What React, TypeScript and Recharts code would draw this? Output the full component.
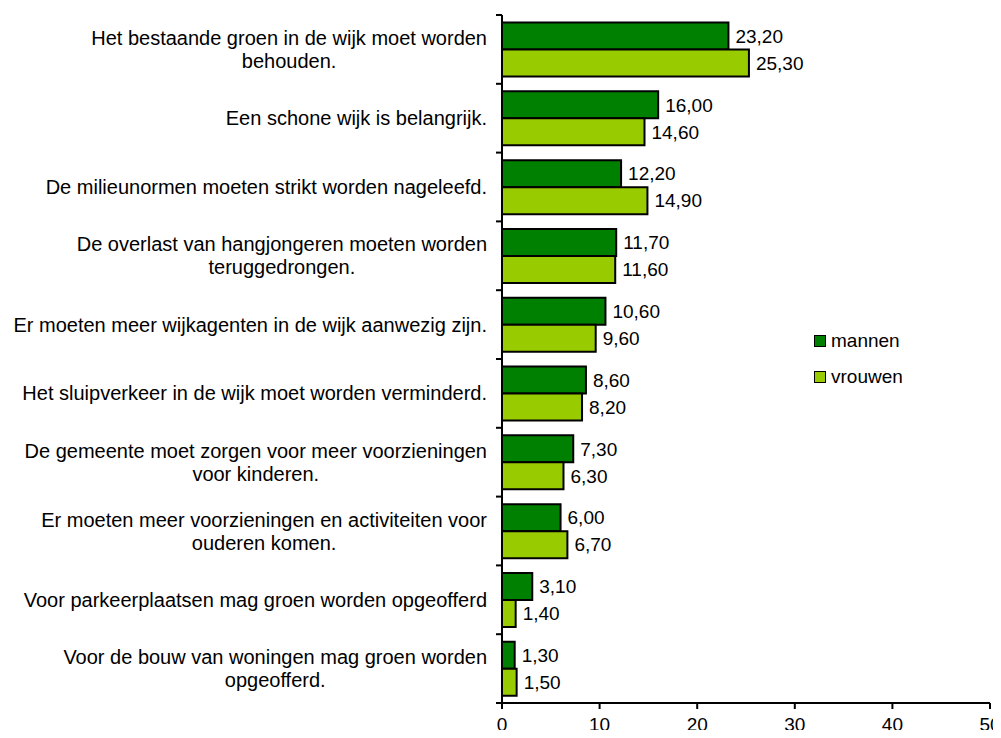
import React from 'react'
import { BarChart, Bar, XAxis, YAxis, Legend, LabelList } from 'recharts'

const categories = [
  'Het bestaande groen in de wijk moet worden\nbehouden.',
  'Een schone wijk is belangrijk.',
  'De milieunormen moeten strikt worden nageleefd.',
  'De overlast van hangjongeren moeten worden\nteruggedrongen.',
  'Er moeten meer wijkagenten in de wijk aanwezig zijn.',
  'Het sluipverkeer in de wijk moet worden verminderd.',
  'De gemeente moet zorgen voor meer voorzieningen\nvoor kinderen.',
  'Er moeten meer voorzieningen en activiteiten voor\nouderen komen.',
  'Voor parkeerplaatsen mag groen worden opgeofferd',
  'Voor de bouw van woningen mag groen worden\nopgeofferd.',
]
const mannen = [23.2, 16.0, 12.2, 11.7, 10.6, 8.6, 7.3, 6.0, 3.1, 1.3]
const vrouwen = [25.3, 14.6, 14.9, 11.6, 9.6, 8.2, 6.3, 6.7, 1.4, 1.5]
const xTicks = [0, 10, 20, 30, 40, 50]

const seriesNames = { mannen: 'mannen', vrouwen: 'vrouwen' }
const colors = { mannen: '#008000', vrouwen: '#99CC00' }

const FONT = '"Liberation Sans", Arial, sans-serif'
const CAT_SIZE = 20
const VAL_SIZE = 19

const data = categories.map((name, i) => ({
  name,
  mannen: mannen[i],
  vrouwen: vrouwen[i],
}))

let measureCtx: CanvasRenderingContext2D | null = null
function textWidth(s: string) {
  if (!measureCtx) {
    measureCtx = document.createElement('canvas').getContext('2d')
  }
  if (!measureCtx) return s.length * 10
  measureCtx.font = `${CAT_SIZE}px ${FONT}`
  return measureCtx.measureText(s).width
}

const fmt = (v: any) => Number(v).toFixed(2).replace('.', ',')

// category labels: block right-aligned, lines centred in the block,
// tick marks between categories like the original
function CategoryTick(props: any) {
  const { x, y, payload, index, visibleTicksCount } = props
  const lines: string[] = String(payload.value).split('\n')
  const blockW = Math.max(...lines.map(textWidth))
  const cx = x - blockW / 2
  const lineH = 23
  const startY = y - ((lines.length - 1) * lineH) / 2
  const half = payload.offset || 34.4
  const axisX = x + 15
  return (
    <g>
      <line x1={axisX - 6} x2={axisX} y1={y - half} y2={y - half} stroke="#000" strokeWidth={2} />
      {index === (visibleTicksCount ?? categories.length) - 1 && (
        <line x1={axisX - 6} x2={axisX} y1={y + half} y2={y + half} stroke="#000" strokeWidth={2} />
      )}
      <text textAnchor="middle" fontSize={CAT_SIZE} fill="#000" fontFamily={FONT}>
        {lines.map((l, i) => (
          <tspan key={i} x={cx} y={startY + i * lineH} dy="0.35em">
            {l}
          </tspan>
        ))}
      </text>
    </g>
  )
}

function LegendBox() {
  const items = [
    { key: 'mannen', label: seriesNames.mannen, color: colors.mannen },
    { key: 'vrouwen', label: seriesNames.vrouwen, color: colors.vrouwen },
  ]
  return (
    <div style={{ fontFamily: FONT, fontSize: VAL_SIZE, width: 140 }}>
      {items.map((it) => (
        <div key={it.key} style={{ display: 'flex', alignItems: 'center', height: 36 }}>
          <span
            style={{
              display: 'inline-block',
              width: 10,
              height: 10,
              background: it.color,
              border: '1.5px solid #000',
              marginRight: 5,
            }}
          />
          <span>{it.label}</span>
        </div>
      ))}
    </div>
  )
}

export default function App() {
  // chart fills the whole window; cancel the body margin
  return (
    <div style={{ fontFamily: FONT, margin: -8 }}>
      <BarChart
        width={1001}
        height={738}
        data={data}
        layout="vertical"
        margin={{ top: 15, right: 11, bottom: 0, left: 0 }}
        barCategoryGap="11%"
        barGap={0}
      >
        <XAxis
          type="number"
          domain={[0, 50]}
          ticks={xTicks}
          height={35}
          tickSize={6}
          tickMargin={9}
          axisLine={{ stroke: '#000', strokeWidth: 2 }}
          tickLine={{ stroke: '#000', strokeWidth: 2 }}
          tick={{ fill: '#000', fontSize: VAL_SIZE, fontFamily: FONT }}
        />
        <YAxis
          type="category"
          dataKey="name"
          width={502}
          tickSize={6}
          tickMargin={9}
          interval={0}
          axisLine={{ stroke: '#000', strokeWidth: 2 }}
          tickLine={false}
          tick={<CategoryTick />}
        />
        <Legend
          layout="vertical"
          content={<LegendBox />}
          wrapperStyle={{ position: 'absolute', left: 814, top: 323, width: 0, height: 0, overflow: 'visible' }}
        />
        <Bar
          dataKey="mannen"
          name={seriesNames.mannen}
          fill={colors.mannen}
          stroke="#000"
          strokeWidth={2}
          isAnimationActive={false}
        >
          <LabelList dataKey="mannen" position="right" offset={7} formatter={fmt} fill="#000" fontSize={VAL_SIZE} fontFamily={FONT} />
        </Bar>
        <Bar
          dataKey="vrouwen"
          name={seriesNames.vrouwen}
          fill={colors.vrouwen}
          stroke="#000"
          strokeWidth={2}
          isAnimationActive={false}
        >
          <LabelList dataKey="vrouwen" position="right" offset={7} formatter={fmt} fill="#000" fontSize={VAL_SIZE} fontFamily={FONT} />
        </Bar>
      </BarChart>
    </div>
  )
}
